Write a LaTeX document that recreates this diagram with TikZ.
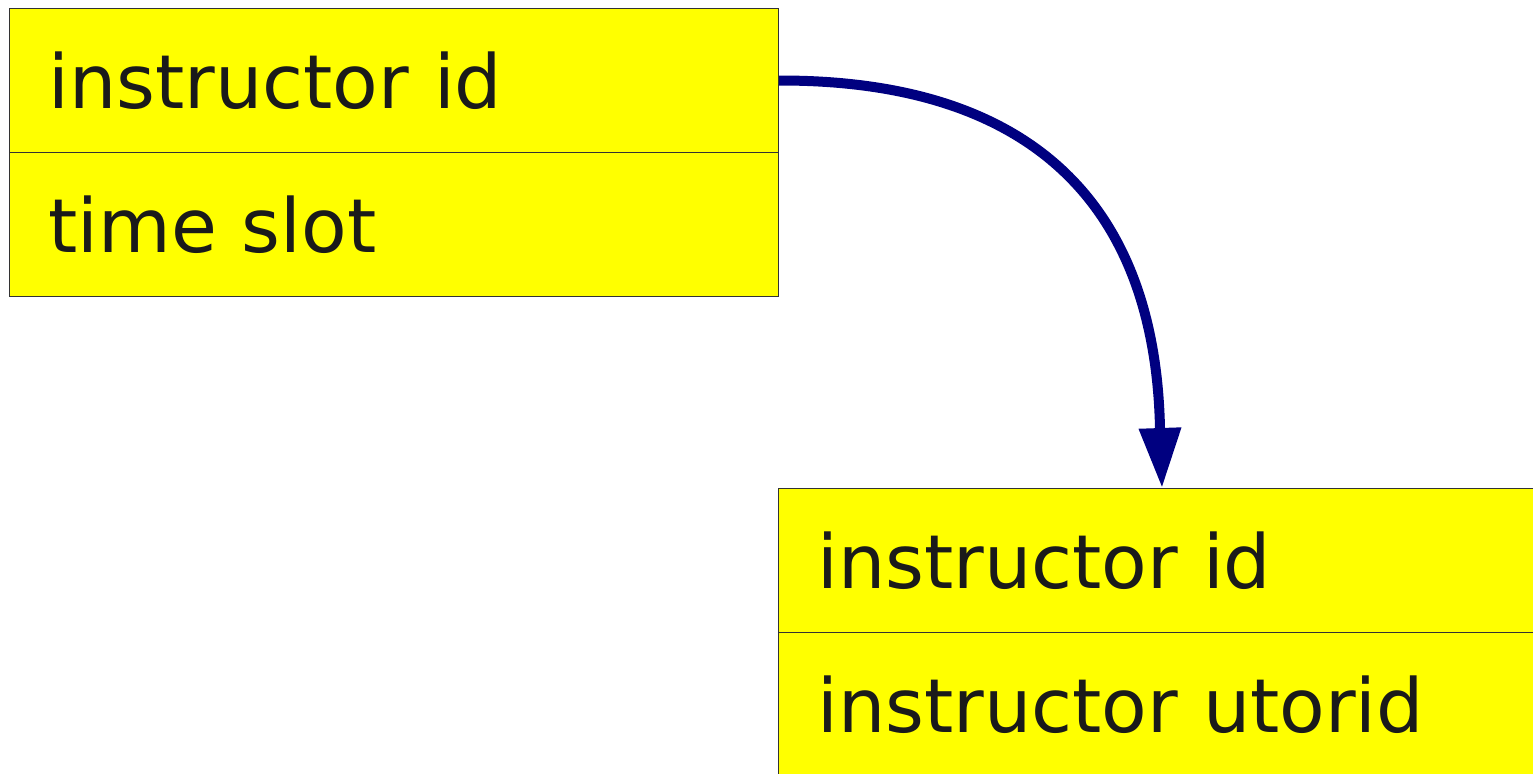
\documentclass[tikz,border=0pt]{standalone}
\usepackage{fontspec}
\setmainfont{DejaVu Sans}
\usetikzlibrary{arrows.meta}
\definecolor{cellyellow}{HTML}{FFFF00}
\definecolor{arrnavy}{HTML}{000080}
\definecolor{txtgray}{HTML}{1A1A1A}
\definecolor{bordergray}{HTML}{333333}
\begin{document}
\begin{tikzpicture}[x=0.5pt,y=-0.5pt,
  cell/.style={draw=bordergray, line width=0.5pt, fill=cellyellow, text=txtgray,
    anchor=north west, inner xsep=19.5pt, inner ysep=0pt, align=left,
    font=\fontsize{37.3pt}{44pt}\selectfont, minimum height=72pt},
  topcell/.style={cell, text width=345.5pt},
  botcell/.style={cell, text width=370pt},
  link/.style={draw=arrnavy, line width=5pt, -{Triangle[length=30pt,width=20pt,fill=arrnavy]}}
]
\clip (0,0) rectangle (1533,773);
\fill[white] (0,0) rectangle (1533,773);
\node[topcell] (a1) at (9,8) {instructor id};
\node[topcell] (a2) at (9,152) {time slot};
\node[botcell] (b1) at (778,488) {instructor id};
\node[botcell] (b2) at (778,632) {instructor utorid};
\coordinate (tipbase) at (1160,428);
\draw[link] (a1.east) .. controls (1026,80) and (1155,199) .. (tipbase) -- ([xshift=192pt]b1.north west);
\end{tikzpicture}
\end{document}
